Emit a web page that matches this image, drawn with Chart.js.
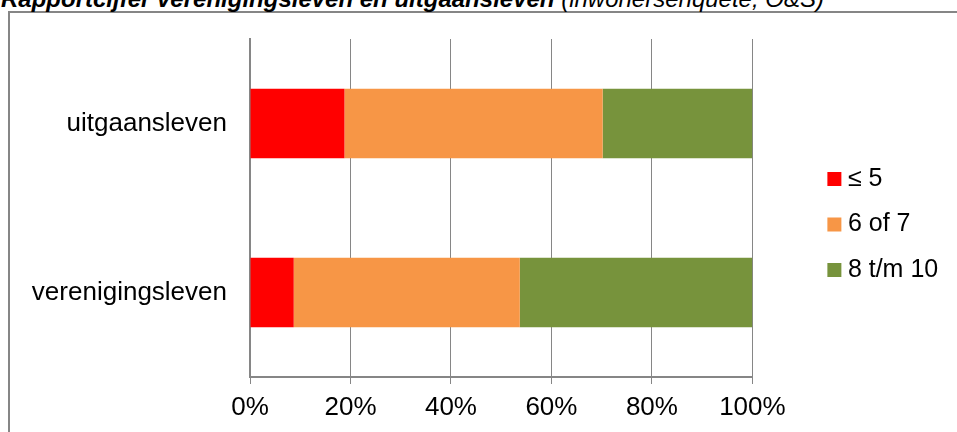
<!DOCTYPE html>
<html>
<head>
<meta charset="utf-8">
<script src="https://cdn.jsdelivr.net/npm/chart.js@4.4.1/dist/chart.umd.min.js"></script>
<style>
  html, body { margin: 0; padding: 0; background: #fff; }
  body { width: 957px; height: 432px; position: relative; overflow: hidden; font-family: "Liberation Sans", Arial, sans-serif; }
  #frame { position: absolute; left: 8px; top: 11px; width: 970px; height: 450px; border: 2px solid #868686; box-sizing: border-box; }
  #title { position: absolute; left: 1px; top: -13px; font-size: 24px; line-height: 24px; font-style: italic; font-weight: bold; white-space: nowrap; color: #000; }
  #title span { font-weight: normal; }
  #wrap { position: absolute; left: 0; top: 0; }
</style>
</head>
<body>
<div id="frame"></div>
<div id="title">Rapportcijfer verenigingsleven en uitgaansleven <span>(inwonersenquête, O&amp;S)</span></div>
<div id="wrap"><canvas id="scoreChart" width="957" height="432"></canvas></div>
<script>
const categories = ['uitgaansleven', 'verenigingsleven'];
const seriesNames = ['≤ 5', '6 of 7', '8 t/m 10'];
const scoreLow = [18.8, 8.7];
const scoreMid = [51.4, 45.0];
const scoreHigh = [29.8, 46.3];
const percentTicks = [0, 20, 40, 60, 80, 100];

const fontFamily = '"Liberation Sans", Arial, sans-serif';
const axisGrey = '#868686';

const chartData = {
  labels: categories,
  datasets: [
    { label: seriesNames[0], data: scoreLow, backgroundColor: '#FF0000' },
    { label: seriesNames[1], data: scoreMid, backgroundColor: '#F79646' },
    { label: seriesNames[2], data: scoreHigh, backgroundColor: '#77933C' },
  ],
};

const config = {
  type: 'bar',
  data: chartData,
  options: {
    indexAxis: 'y',
    responsive: false,
    animation: false,
    devicePixelRatio: 1,
    layout: { padding: { top: 39, right: 8.8, bottom: 0.8, left: 0 } },
    datasets: {
      bar: { barPercentage: 0.411, categoryPercentage: 1, borderWidth: 0 },
    },
    scales: {
      x: {
        stacked: true,
        min: 0,
        max: 100,
        afterBuildTicks: (scale) => {
          scale.ticks = percentTicks.map((v) => ({ value: v }));
        },
        grid: { color: axisGrey, lineWidth: 1, tickLength: 7 },
        border: { color: axisGrey, width: 2 },
        ticks: {
          color: '#000',
          padding: 6.2,
          maxRotation: 0,
          font: { family: fontFamily, size: 26, lineHeight: '34.8px' },
          callback: (v) => v + '%',
        },
      },
      y: {
        stacked: true,
        grid: { display: false, drawTicks: false },
        border: { color: axisGrey, width: 2 },
        ticks: { color: '#000', padding: 23, font: { family: fontFamily, size: 26 } },
        afterFit: (scale) => {
          scale.width = 250;
        },
      },
      // empty axis that keeps the legend away from the bars
      gap: {
        axis: 'y',
        type: 'category',
        position: 'right',
        grid: { display: false, drawTicks: false },
        border: { display: false },
        ticks: { display: false },
        afterFit: (scale) => {
          scale.width = 60.5;
        },
      },
    },
    plugins: {
      tooltip: { enabled: false },
      legend: {
        position: 'right',
        align: 'start',
        // blank title used as top spacing for the legend rows
        title: { display: true, text: '', padding: { top: 92.6, bottom: 0 }, font: { size: 12, lineHeight: '14.4px' } },
        labels: {
          usePointStyle: true,
          pointStyle: 'rect',
          boxWidth: 2,
          boxHeight: 14,
          padding: 20.5,
          color: '#000',
          font: { family: fontFamily, size: 25 },
        },
      },
    },
  },
};

const ctx = document.getElementById('scoreChart').getContext('2d');
const scoreChart = new Chart(ctx, config);
</script>
</body>
</html>
